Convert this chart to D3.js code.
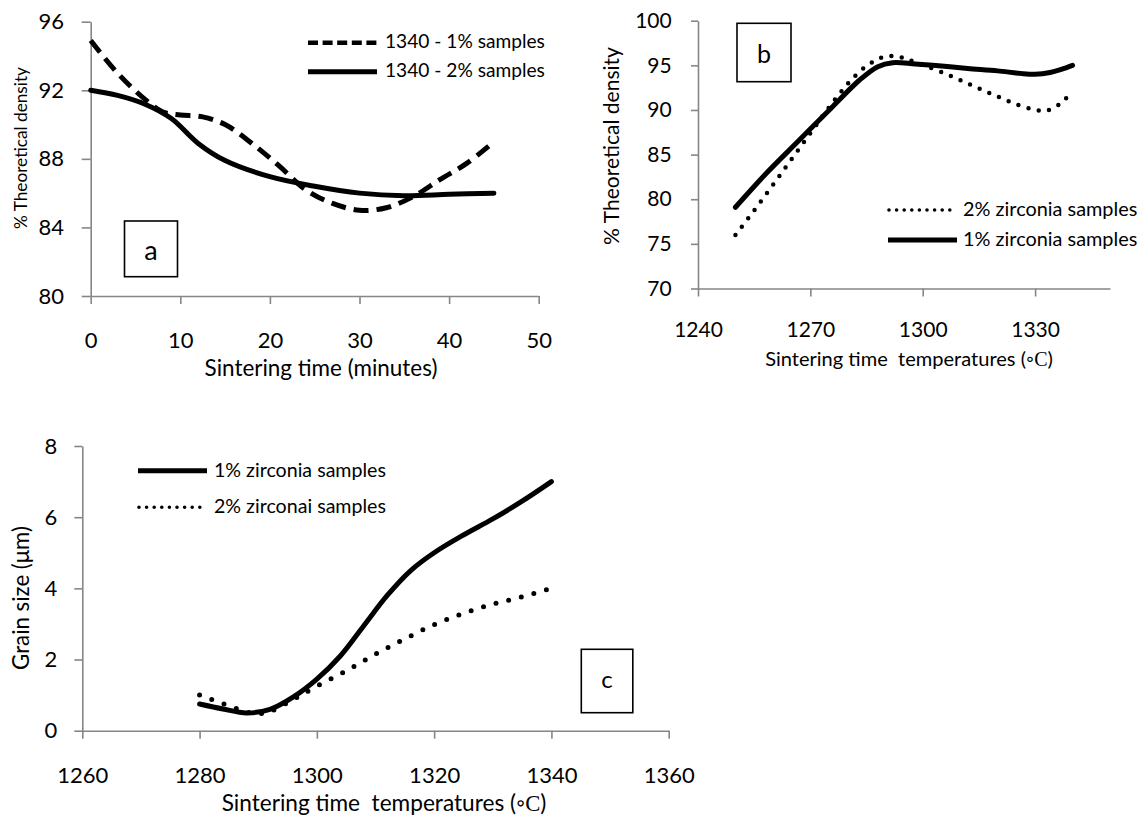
<!DOCTYPE html>
<html>
<head>
<meta charset="utf-8">
<script src="https://cdn.jsdelivr.net/npm/d3@7"></script>
<style>
  body { margin: 0; background: #fff; }
  svg { display: block; }
  text { font-family: Lato, "Liberation Sans", sans-serif; fill: #000; }
</style>
</head>
<body>
<svg id="chart" width="1143" height="818"></svg>
<script>
// ---------------- DATA ----------------
// Panel a : % theoretical density vs sintering time (minutes)
const aXTicks = [0, 10, 20, 30, 40, 50];
const aYTicks = [80, 84, 88, 92, 96];
const aXLabel = "Sintering time (minutes)";
const aYLabel = "% Theoretical density";
const aName1 = "1340 - 1% samples";
const aTime1 = [0, 3, 6, 8, 10, 12.5, 15, 18, 21, 24, 27, 30, 33, 36, 39, 42, 45];
const aDens1 = [94.9, 93.0, 91.5, 90.75, 90.56, 90.45, 90.0, 88.9, 87.6, 86.2, 85.4, 85.0, 85.15, 85.8, 86.8, 87.75, 89.0];
const aName2 = "1340 - 2% samples";
const aTime2 = [0, 3, 6, 9, 12, 15, 20, 25, 30, 35, 40, 45];
const aDens2 = [92.0, 91.7, 91.2, 90.35, 88.9, 87.9, 86.96, 86.4, 86.0, 85.85, 85.93, 86.0];

// Panel b : % theoretical density vs sintering temperature
const bXTicks = [1240, 1270, 1300, 1330];
const bYTicks = [70, 75, 80, 85, 90, 95, 100];
const bXLabel = "Sintering time  temperatures (\u25E6";
const bYLabel = "% Theoretical density";
const bName1 = "2% zirconia samples";
const bTemp1 = [1250, 1255, 1260, 1265, 1270, 1275, 1280, 1284, 1287, 1290, 1293, 1296, 1300, 1305, 1310, 1315, 1320, 1325, 1330, 1333, 1336, 1338, 1340];
const bDens1 = [76.0, 78.75, 81.6, 84.5, 87.4, 90.3, 92.95, 94.6, 95.45, 96.0, 96.0, 95.65, 95.05, 94.25, 93.35, 92.4, 91.5, 90.65, 90.0, 89.93, 90.5, 91.2, 91.95];
const bName2 = "1% zirconia samples";
const bTemp2 = [1250, 1258, 1267, 1276, 1283, 1288, 1292, 1298, 1305, 1312, 1320, 1326, 1330, 1334, 1337, 1340];
const bDens2 = [79.1, 82.8, 86.6, 90.4, 93.3, 94.85, 95.3, 95.15, 94.92, 94.65, 94.38, 94.1, 94.0, 94.2, 94.55, 95.0];

// Panel c : grain size vs sintering temperature
const cXTicks = [1260, 1280, 1300, 1320, 1340, 1360];
const cYTicks = [0, 2, 4, 6, 8];
const cXLabel = "Sintering time  temperatures (\u25E6";
const cYLabel = "Grain size (\u03BCm)";
const cName1 = "1% zirconia samples";
const cTemp1 = [1280, 1284, 1288, 1292, 1296, 1300, 1304, 1308, 1312, 1316, 1320, 1325, 1330, 1335, 1340];
const cSize1 = [0.75, 0.61, 0.5, 0.6, 0.95, 1.45, 2.1, 2.95, 3.8, 4.5, 5.0, 5.5, 5.95, 6.45, 7.0];
const cName2 = "2% zirconai samples";
const cTemp2 = [1280, 1284, 1288, 1290, 1292, 1296, 1300, 1305, 1310, 1315, 1320, 1325, 1330, 1335, 1340];
const cSize2 = [1.0, 0.76, 0.53, 0.48, 0.54, 0.88, 1.25, 1.68, 2.15, 2.58, 2.98, 3.3, 3.56, 3.76, 4.0];

// ---------------- DRAWING ----------------
const svg = d3.select("#chart");
const AXIS = "#868686";

const STYLES = {
  solid:  { w: 5,   dash: null,      cap: "round" },
  dashed: { w: 5,   dash: "15,8",    cap: "butt" },
  dotB:   { w: 4.5, dash: "0,10.5",  cap: "round" },
  dotC:   { w: 5,   dash: "0,13",    cap: "round" }
};
const LEG = {
  solid:  { w: 5,   dash: null,     cap: "butt" },
  dashed: { w: 4.5, dash: "10,4.6", cap: "butt" },
  dot:    { w: 3.6, dash: "0,7.6",  cap: "round" }
};

function fit(textSel, target) {
  const n = textSel.node();
  const fs = parseFloat(textSel.attr("font-size"));
  const w = n.getComputedTextLength();
  textSel.attr("font-size", fs * target / w);
  return fs * target / w;
}

function titleText(g, str, serifC) {
  const t = g.append("text").attr("font-size", 18).style("white-space", "pre");
  t.append("tspan").text(str);
  if (serifC) {
    t.append("tspan").attr("font-family", "'Liberation Serif', 'DejaVu Serif', serif").text("C");
    t.append("tspan").text(")");
  }
  return t;
}

function panel(cfg) {
  const g = svg.append("g");
  const x = d3.scaleLinear().domain(cfg.xDomain).range(cfg.xRange);
  const y = d3.scaleLinear().domain(cfg.yDomain).range(cfg.yRange);

  // axes
  const xAxis = d3.axisBottom(x).tickValues(cfg.xTicks).tickSizeInner(cfg.xTick).tickSizeOuter(0)
    .tickPadding(cfg.xLabelCy - cfg.yRange[0] - cfg.xTick - 0.36 * cfg.tickFs).tickFormat(d3.format("d"));
  const yAxis = d3.axisLeft(y).tickValues(cfg.yTicks).tickSizeInner(cfg.yTick).tickSizeOuter(0)
    .tickPadding(cfg.xRange[0] - cfg.yLabelRight - cfg.yTick).tickFormat(d3.format("d"));

  const gx = g.append("g").attr("transform", `translate(0,${cfg.yRange[0]})`).call(xAxis);
  const gy = g.append("g").attr("transform", `translate(${cfg.xRange[0]},0)`).call(yAxis);
  [gx, gy].forEach(a => {
    a.attr("font-family", null).attr("font-size", null);
    a.select(".domain").attr("stroke", AXIS).attr("stroke-width", 1.6);
    a.selectAll(".tick line").attr("stroke", AXIS).attr("stroke-width", 1.6);
    a.selectAll(".tick text").attr("fill", "#000").style("font-size", cfg.tickFs + "px")
      .style("font-family", "Lato, sans-serif");
  });

  // series
  cfg.series.forEach(s => {
    const st = STYLES[s.style];
    const data = s.xs.map((v, i) => [v, s.ys[i]]);
    g.append("path").datum(data)
      .attr("fill", "none").attr("stroke", "#000")
      .attr("stroke-width", st.w).attr("stroke-linecap", st.cap).attr("stroke-linejoin", "round")
      .attr("stroke-dasharray", st.dash)
      .attr("d", d3.line().x(d => x(d[0])).y(d => y(d[1])).curve(d3.curveCatmullRom.alpha(0.5)));
  });

  // legend
  cfg.legend.forEach(L => {
    const st = LEG[L.style];
    g.append("line").attr("x1", L.x1).attr("x2", L.x2).attr("y1", L.cy).attr("y2", L.cy)
      .attr("stroke", "#000").attr("stroke-width", st.w).attr("stroke-linecap", st.cap)
      .attr("stroke-dasharray", st.dash);
    const t = g.append("text").attr("x", L.tx).attr("font-size", 16).text(L.name);
    const fs = fit(t, L.tw);
    t.attr("y", L.cy + 0.3 * fs);
  });

  // letter box
  const B = cfg.box;
  g.append("rect").attr("x", B.x0).attr("y", B.y0).attr("width", B.x1 - B.x0).attr("height", B.y1 - B.y0)
    .attr("fill", "#fff").attr("stroke", "#000").attr("stroke-width", 1.6);
  g.append("text").attr("x", B.cx).attr("y", B.cy + B.off * B.fs).attr("text-anchor", "middle")
    .attr("font-size", B.fs).text(B.letter);

  // x title
  const xt = titleText(g, cfg.xLabel, cfg.serifC);
  const xfs = fit(xt, cfg.xTitle.w);
  xt.attr("text-anchor", "middle").attr("x", cfg.xTitle.cx).attr("y", cfg.xTitle.cy + 0.28 * xfs);

  // y title
  const yt = g.append("text").attr("font-size", 18).text(cfg.yLabel);
  const yfs = fit(yt, cfg.yTitle.w);
  yt.attr("text-anchor", "middle")
    .attr("transform", `translate(${cfg.yTitle.cx + 0.28 * yfs},${cfg.yTitle.cy}) rotate(-90)`);
}

panel({
  xDomain: [0, 50], yDomain: [80, 96], xRange: [90.7, 538.7], yRange: [296, 21.7],
  xTicks: aXTicks, yTicks: aYTicks, xTick: 8, yTick: 9, tickFs: 22,
  xLabelCy: 340, yLabelRight: 64,
  series: [
    { xs: aTime1, ys: aDens1, style: "dashed" },
    { xs: aTime2, ys: aDens2, style: "solid" }
  ],
  legend: [
    { name: aName1, style: "dashed", x1: 308, x2: 377, cy: 42.7, tx: 385, tw: 160 },
    { name: aName2, style: "solid",  x1: 308, x2: 377, cy: 71.7, tx: 385, tw: 160 }
  ],
  box: { x0: 124.5, x1: 177.5, y0: 221, y1: 276.7, cx: 151, cy: 253, letter: "a", fs: 27, off: 0.25 },
  xLabel: aXLabel, serifC: false, xTitle: { cx: 321, cy: 370, w: 233 },
  yLabel: aYLabel, yTitle: { cx: 21.7, cy: 148, w: 162 }
});

panel({
  xDomain: [1240, 1350], yDomain: [70, 100], xRange: [698, 1110], yRange: [288.5, 20.7],
  xTicks: bXTicks, yTicks: bYTicks, xTick: 8, yTick: 7, tickFs: 21,
  xLabelCy: 330, yLabelRight: 671.7,
  series: [
    { xs: bTemp1, ys: bDens1, style: "dotB" },
    { xs: bTemp2, ys: bDens2, style: "solid" }
  ],
  legend: [
    { name: bName1, style: "dot",   x1: 889, x2: 956, cy: 210, tx: 963, tw: 174.5 },
    { name: bName2, style: "solid", x1: 888, x2: 957, cy: 240, tx: 963, tw: 174.5 }
  ],
  box: { x0: 737, x1: 791, y0: 23.3, y1: 81.7, cx: 764, cy: 54, letter: "b", fs: 25, off: 0.36 },
  xLabel: bXLabel, serifC: true, xTitle: { cx: 909, cy: 360, w: 288 },
  yLabel: bYLabel, yTitle: { cx: 613, cy: 146, w: 198 }
});

panel({
  xDomain: [1260, 1360], yDomain: [0, 8], xRange: [82.3, 668.7], yRange: [730.7, 446],
  xTicks: cXTicks, yTicks: cYTicks, xTick: 8, yTick: 8, tickFs: 22,
  xLabelCy: 775, yLabelRight: 57.3,
  series: [
    { xs: cTemp1, ys: cSize1, style: "solid" },
    { xs: cTemp2, ys: cSize2, style: "dotC" }
  ],
  legend: [
    { name: cName1, style: "solid", x1: 138, x2: 207, cy: 470.7, tx: 214, tw: 172 },
    { name: cName2, style: "dot",   x1: 139, x2: 206, cy: 507.3, tx: 214, tw: 172 }
  ],
  box: { x0: 581.3, x1: 632.8, y0: 649.3, y1: 712.7, cx: 607, cy: 681.7, letter: "c", fs: 24, off: 0.25 },
  xLabel: cXLabel, serifC: true, xTitle: { cx: 384, cy: 805, w: 325 },
  yLabel: cYLabel, yTitle: { cx: 22.7, cy: 598, w: 144 }
});
</script>
</body>
</html>
